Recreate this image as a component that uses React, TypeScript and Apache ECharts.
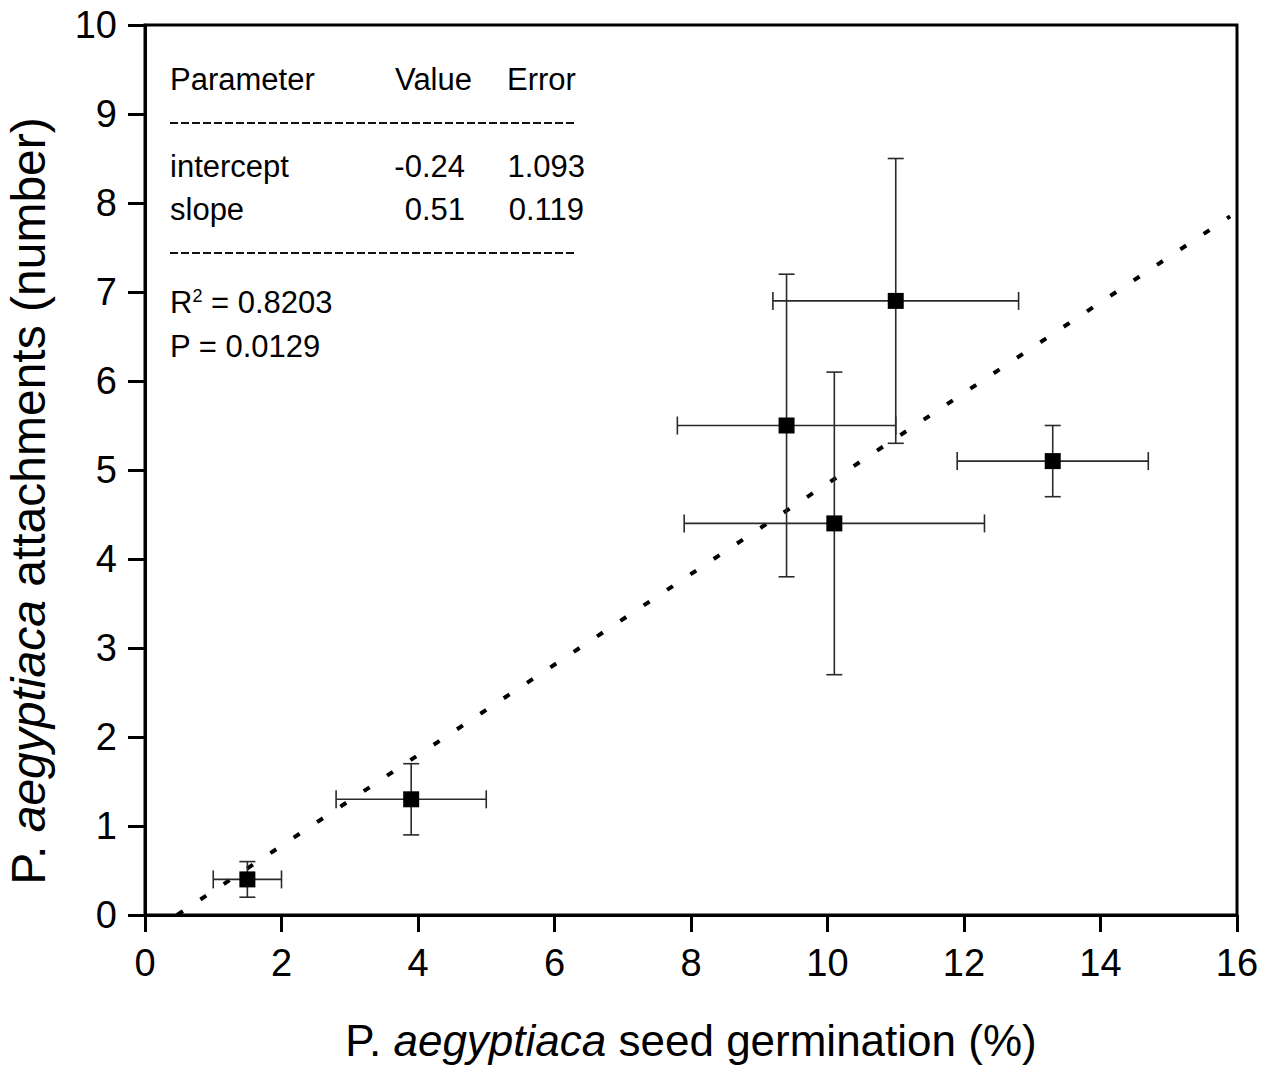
import React, { useEffect, useRef } from "react";
import * as echarts from "echarts";

// Data
const germination = [1.5, 3.9, 9.4, 10.1, 11.0, 13.3];
const attachments = [0.4, 1.3, 5.5, 4.4, 6.9, 5.1];
const germLow = [1.0, 2.8, 7.8, 7.9, 9.2, 11.9];
const germHigh = [2.0, 5.0, 11.0, 12.3, 12.8, 14.7];
const attLow = [0.2, 0.9, 3.8, 2.7, 5.3, 4.7];
const attHigh = [0.6, 1.7, 7.2, 6.1, 8.5, 5.5];

// Fitted line end points
const fitX = [0.47, 15.9];
const fitY = [0.0, 7.85];

const xTicks = { min: 0, max: 16, interval: 2 };
const yTicks = { min: 0, max: 10, interval: 1 };

const FONT = "'Liberation Sans', Arial, Helvetica, sans-serif";

export default function App() {
  const ref = useRef<HTMLDivElement>(null);

  useEffect(() => {
    document.body.style.margin = "0";
    if (!ref.current) return;
    const chart = echarts.init(ref.current, undefined, { renderer: "svg" });

    const points = germination.map((x, i) => [x, attachments[i]]);
    const bars = germination.map((x, i) => [
      x,
      attachments[i],
      germLow[i],
      germHigh[i],
      attLow[i],
      attHigh[i],
    ]);
    const fitLine = fitX.map((x, i) => [x, fitY[i]]);

    const tableText = (
      text: string,
      x: number,
      y: number,
      align: string = "left"
    ) => ({
      type: "text",
      x,
      y,
      silent: true,
      style: {
        text,
        fill: "#000",
        fontSize: 31,
        fontFamily: FONT,
        align,
        textAlign: align,
        verticalAlign: "middle",
        textVerticalAlign: "middle",
      },
    });

    const dashLine = (y: number) => ({
      type: "line",
      silent: true,
      shape: { x1: 170, y1: y, x2: 577, y2: y },
      style: { stroke: "#111", lineWidth: 2, lineDash: [8, 3] },
    });

    chart.setOption({
      animation: false,
      backgroundColor: "#fff",
      grid: {
        left: 145,
        right: 30,
        top: 25,
        bottom: 160,
        show: true,
        borderColor: "#000",
        borderWidth: 3,
        backgroundColor: "transparent",
      },
      xAxis: {
        type: "value",
        min: xTicks.min,
        max: xTicks.max,
        interval: xTicks.interval,
        splitLine: { show: false },
        axisLine: { show: true, onZero: false, lineStyle: { color: "#000", width: 3 } },
        axisTick: { show: true, inside: false, length: 17, lineStyle: { color: "#000", width: 3 } },
        axisLabel: { color: "#000", fontSize: 38, fontFamily: FONT, margin: 29 },
        name: "{n|P. }{i|aegyptiaca}{n| seed germination (%)}",
        nameLocation: "middle",
        nameGap: 103,
        nameTextStyle: {
          color: "#000",
          fontSize: 44,
          fontFamily: FONT,
          rich: {
            n: { fontSize: 44, fontFamily: FONT, color: "#000" },
            i: { fontSize: 44, fontFamily: FONT, color: "#000", fontStyle: "italic" },
          },
        },
      },
      yAxis: {
        type: "value",
        min: yTicks.min,
        max: yTicks.max,
        interval: yTicks.interval,
        splitLine: { show: false },
        axisLine: { show: true, onZero: false, lineStyle: { color: "#000", width: 3 } },
        axisTick: { show: true, inside: false, length: 17, lineStyle: { color: "#000", width: 3 } },
        axisLabel: { color: "#000", fontSize: 38, fontFamily: FONT, margin: 28 },
      },
      graphic: [
        {
          type: "text",
          x: 28,
          y: 501,
          rotation: Math.PI / 2,
          silent: true,
          style: {
            text: "{n|P. }{i|aegyptiaca}{n| attachments (number)}",
            align: "center",
            textAlign: "center",
            verticalAlign: "middle",
            textVerticalAlign: "middle",
            fill: "#000",
            fontSize: 48,
            fontFamily: FONT,
            rich: {
              n: { fontSize: 48, fontFamily: FONT, fill: "#000", color: "#000" },
              i: { fontSize: 48, fontFamily: FONT, fill: "#000", color: "#000", fontStyle: "italic" },
            },
          },
        },
        tableText("Parameter", 170, 79),
        tableText("Value", 395, 79),
        tableText("Error", 507, 79),
        dashLine(123),
        tableText("intercept", 170, 166),
        tableText("-0.24", 465, 166, "right"),
        tableText("1.093", 585, 166, "right"),
        tableText("slope", 170, 209),
        tableText("0.51", 465, 209, "right"),
        tableText("0.119", 584, 209, "right"),
        dashLine(253),
        {
          type: "text",
          x: 170,
          y: 302,
          silent: true,
          style: {
            text: "{a|R}{s|2}{a| = 0.8203}",
            align: "left",
            textAlign: "left",
            verticalAlign: "middle",
            textVerticalAlign: "middle",
            fill: "#000",
            fontSize: 31,
            fontFamily: FONT,
            rich: {
              a: { fontSize: 31, lineHeight: 31, fontFamily: FONT, fill: "#000", color: "#000" },
              s: { fontSize: 18, lineHeight: 18, fontFamily: FONT, fill: "#000", color: "#000", verticalAlign: "top" },
            },
          },
        },
        tableText("P = 0.0129", 170, 346),
      ],
      series: [
        {
          type: "line",
          data: fitLine,
          showSymbol: false,
          symbol: "none",
          lineStyle: { color: "#000", width: 4, type: [7, 21], cap: "butt" },
          z: 2,
          silent: true,
        },
        {
          type: "custom",
          data: bars,
          encode: { x: 0, y: 1 },
          z: 3,
          silent: true,
          renderItem: (params: any, api: any) => {
            const x = api.value(0);
            const y = api.value(1);
            const pL = api.coord([api.value(2), y]);
            const pH = api.coord([api.value(3), y]);
            const pB = api.coord([x, api.value(4)]);
            const pT = api.coord([x, api.value(5)]);
            const st = { stroke: "#2a2a2a", lineWidth: 1.6, fill: "none" };
            const capH = 9;
            const capW = 8;
            const ln = (x1: number, y1: number, x2: number, y2: number) => ({
              type: "line",
              shape: { x1, y1, x2, y2 },
              style: st,
            });
            return {
              type: "group",
              children: [
                ln(pL[0], pL[1], pH[0], pH[1]),
                ln(pL[0], pL[1] - capH, pL[0], pL[1] + capH),
                ln(pH[0], pH[1] - capH, pH[0], pH[1] + capH),
                ln(pB[0], pB[1], pT[0], pT[1]),
                ln(pB[0] - capW, pB[1], pB[0] + capW, pB[1]),
                ln(pT[0] - capW, pT[1], pT[0] + capW, pT[1]),
              ],
            };
          },
        },
        {
          type: "scatter",
          data: points,
          symbol: "rect",
          symbolSize: 16,
          itemStyle: { color: "#000", opacity: 1 },
          z: 4,
          silent: true,
        },
      ],
    });

    return () => chart.dispose();
  }, []);

  return <div ref={ref} style={{ width: 1267, height: 1075 }} />;
}
